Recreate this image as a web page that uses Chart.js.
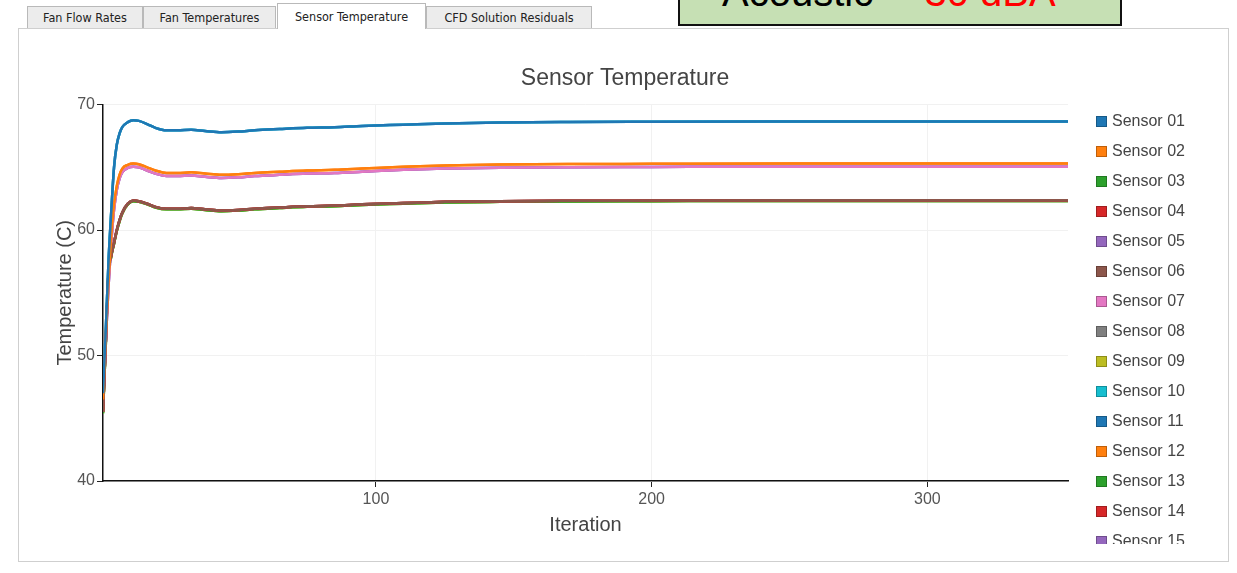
<!DOCTYPE html>
<html lang="en">
<head>
    <meta charset="UTF-8">
    <title>Sensor Temperature</title>
    <script src="https://cdn.jsdelivr.net/npm/chart.js"></script>
    <style>
        body, html {
            margin: 0;
            padding: 0;
            width: 1237px;
            height: 573px;
            overflow: hidden;
            background: #fff;
            font-family: "Liberation Sans", Arial, sans-serif;
        }
        .tab {
            position: absolute;
            top: 6px;
            height: 22px;
            box-sizing: border-box;
            border: 1px solid #b9b9b9;
            border-bottom: none;
            background: #ececec;
            font: 12.5px "DejaVu Sans Condensed", "Liberation Sans Narrow", sans-serif;
            color: #222;
            text-align: center;
            line-height: 22px;
        }
        .tab.active {
            top: 3px;
            height: 26px;
            background: #fff;
            line-height: 25px;
            z-index: 3;
        }
        #panel {
            position: absolute;
            left: 18px;
            top: 28px;
            width: 1211px;
            height: 534px;
            box-sizing: border-box;
            border: 1px solid #cfcfcf;
            background: #fff;
        }
        #note {
            position: absolute;
            left: 678px;
            top: -6px;
            width: 444px;
            height: 32px;
            box-sizing: border-box;
            border: 2px solid #111;
            background: #c6e0b4;
            overflow: hidden;
            z-index: 4;
        }
        #note span {
            position: absolute;
            top: -24px;
            font: 40px/40px "Liberation Sans", Arial, sans-serif;
            white-space: nowrap;
        }
        #chart {
            position: absolute;
            left: 0;
            top: 40px;
        }
        #legend {
            position: absolute;
            left: 1090px;
            top: 106px;
            width: 130px;
            height: 438px;
            overflow: hidden;
        }
        .item {
            height: 30px;
            display: flex;
            align-items: center;
            font-size: 16px;
            color: #444;
        }
        .item i {
            display: inline-block;
            width: 9px;
            height: 9px;
            margin: 0 5px 0 6px;
            border: 1px solid rgba(0,0,0,0.25);
        }
    </style>
</head>
<body>
    <div class="tab" style="left:27px;width:116px;">Fan Flow Rates</div>
    <div class="tab" style="left:143px;width:133px;">Fan Temperatures</div>
    <div class="tab active" style="left:277px;width:149px;">Sensor Temperature</div>
    <div class="tab" style="left:426px;width:166px;">CFD Solution Residuals</div>
    <div id="panel"></div>
    <div id="note">
        <span style="left:42px;color:#000;">Acoustic</span>
        <span style="left:210px;color:#ff0000;">= 30 dBA</span>
    </div>
    <canvas id="chart" width="1250" height="510"></canvas>
    <div id="legend"></div>

    <script>
        const iterations = [1, 2, 3, 4, 5, 6, 7, 8, 10, 12, 14, 17, 20, 24, 28, 33, 38, 44, 50, 56, 65, 75, 85, 95, 110, 125, 145, 170, 200, 250, 300, 351];

        // Distinct temperature curves (many sensors overlap on these)
        const topCurve = [47.0, 52.0, 57.5, 61.5, 65.0, 66.8, 67.7, 68.2, 68.6, 68.75, 68.7, 68.45, 68.15, 67.95, 67.95, 68.0, 67.9, 67.8, 67.85, 67.95, 68.05, 68.15, 68.2, 68.3, 68.4, 68.5, 68.58, 68.62, 68.64, 68.65, 68.65, 68.65];
        const midCurve = [46.5, 51.5, 56.0, 59.5, 62.0, 63.5, 64.4, 64.9, 65.2, 65.3, 65.25, 65.0, 64.75, 64.55, 64.55, 64.6, 64.5, 64.4, 64.45, 64.55, 64.65, 64.75, 64.8, 64.9, 65.05, 65.15, 65.22, 65.26, 65.28, 65.3, 65.3, 65.3];
        const midLowCurve = [46.3, 51.0, 55.5, 59.0, 61.6, 63.2, 64.1, 64.6, 64.95, 65.05, 65.0, 64.75, 64.5, 64.3, 64.3, 64.35, 64.25, 64.15, 64.2, 64.3, 64.4, 64.5, 64.55, 64.65, 64.8, 64.9, 64.97, 65.01, 65.03, 65.05, 65.05, 65.05];
        const lowCurve = [45.5, 51.0, 56.6, 58.0, 59.0, 60.0, 60.8, 61.4, 62.1, 62.35, 62.3, 62.1, 61.85, 61.7, 61.7, 61.75, 61.65, 61.55, 61.6, 61.7, 61.8, 61.9, 61.95, 62.05, 62.15, 62.25, 62.3, 62.33, 62.35, 62.37, 62.37, 62.37];
        const lowCurveB = [45.4, 50.8, 56.4, 57.9, 58.9, 59.9, 60.7, 61.33, 62.04, 62.29, 62.25, 62.05, 61.8, 61.65, 61.65, 61.7, 61.6, 61.5, 61.55, 61.65, 61.75, 61.85, 61.9, 62.0, 62.1, 62.2, 62.25, 62.28, 62.3, 62.32, 62.32, 62.32];

        const sensorNames = ['Sensor 01', 'Sensor 02', 'Sensor 03', 'Sensor 04', 'Sensor 05', 'Sensor 06', 'Sensor 07', 'Sensor 08',
                             'Sensor 09', 'Sensor 10', 'Sensor 11', 'Sensor 12', 'Sensor 13', 'Sensor 14', 'Sensor 15', 'Sensor 16'];
        const sensorCurves = [topCurve, midCurve, lowCurveB, lowCurve, midLowCurve, lowCurve, midLowCurve, lowCurve,
                              lowCurveB, topCurve, topCurve, midCurve, lowCurveB, lowCurve, midLowCurve, lowCurve];
        // drawing order: lower number is painted on top
        const sensorOrder = [0, 1, 9, 3, 4, 2, 3, 8, 9, 5, 6, 7, 9, 8, 7, 8];
        const palette = ['#1f77b4', '#ff7f0e', '#2ca02c', '#d62728', '#9467bd', '#8c564b', '#e377c2', '#7f7f7f', '#bcbd22', '#17becf'];

        const xTicks = [100, 200, 300];
        const yTicks = [40, 50, 60, 70];

        Chart.defaults.font.family = '"Liberation Sans", Arial, sans-serif';

        const datasets = sensorNames.map((name, i) => ({
            label: name,
            data: sensorCurves[i].map((v, k) => ({ x: iterations[k], y: v })),
            borderColor: palette[i % palette.length],
            backgroundColor: palette[i % palette.length],
            order: sensorOrder[i],
            fill: false
        }));

        new Chart(document.getElementById('chart'), {
            type: 'line',
            data: { datasets: datasets },
            options: {
                responsive: false,
                animation: false,
                layout: { padding: 0 },
                elements: {
                    point: { radius: 0 },
                    line: { borderWidth: 2.5, tension: 0.4, cubicInterpolationMode: 'monotone' }
                },
                plugins: {
                    legend: { display: false },
                    tooltip: { enabled: false },
                    title: {
                        display: true,
                        text: 'Sensor Temperature',
                        color: '#444',
                        font: { size: 23, weight: 'normal' },
                        padding: { top: 25, bottom: 12 }
                    }
                },
                scales: {
                    x: {
                        type: 'linear',
                        min: 1,
                        max: 351,
                        afterBuildTicks: s => { s.ticks = xTicks.map(v => ({ value: v })); },
                        afterFit: s => { s.height = 69; },
                        grid: { color: '#f1f1f1', tickColor: '#222', tickLength: 6 },
                        border: { color: '#111', width: 1.5 },
                        ticks: { color: '#555', font: { size: 16 }, padding: 3, maxRotation: 0 },
                        title: { display: true, text: 'Iteration', color: '#444', font: { size: 20 }, padding: { top: 0, bottom: 13 } }
                    },
                    y: {
                        min: 40,
                        max: 70,
                        afterBuildTicks: s => { s.ticks = yTicks.map(v => ({ value: v })); },
                        afterFit: s => { s.width = 103; },
                        grid: { color: '#f1f1f1', tickColor: '#222', tickLength: 6 },
                        border: { color: '#111', width: 1.5 },
                        ticks: { color: '#555', font: { size: 16 }, padding: 2 },
                        title: { display: true, text: 'Temperature (C)', color: '#444', font: { size: 20 }, padding: { top: 53, bottom: 0 } }
                    },
                    // empty axis that reserves the room where the legend sits
                    legendSpace: {
                        axis: 'y',
                        position: 'right',
                        min: 40,
                        max: 70,
                        afterFit: s => { s.width = 182; },
                        grid: { display: false, drawTicks: false },
                        border: { display: false },
                        ticks: { display: false }
                    }
                }
            }
        });

        // HTML legend, clipped like the scrolling legend in the original
        const legend = document.getElementById('legend');
        sensorNames.forEach((name, i) => {
            const row = document.createElement('div');
            row.className = 'item';
            row.innerHTML = '<i style="background:' + palette[i % palette.length] + '"></i>' + name;
            legend.appendChild(row);
        });
    </script>
</body>
</html>
